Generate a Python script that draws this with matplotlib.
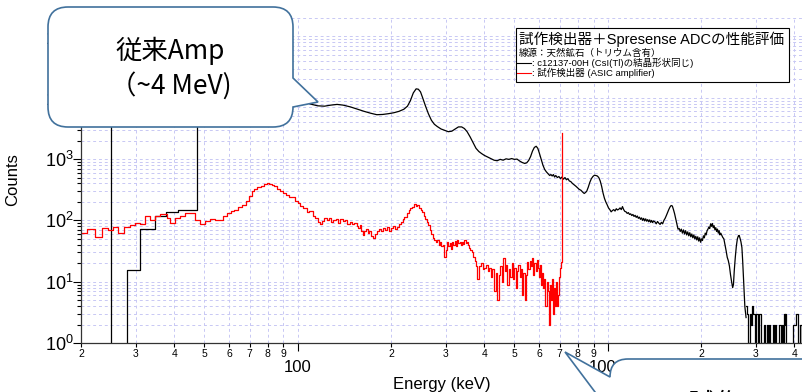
import numpy as np
import matplotlib
matplotlib.use("Agg")
import matplotlib.pyplot as plt
import matplotlib.transforms as mtransforms
from matplotlib.path import Path
from matplotlib.patches import PathPatch, Rectangle
from matplotlib.lines import Line2D
from matplotlib.ticker import FixedLocator, FuncFormatter, LogLocator, NullFormatter

W, H = 803, 392
plt.rcParams["font.family"] = ["Liberation Sans", "Noto Sans CJK JP", "DejaVu Sans"]
plt.rcParams["mathtext.fontset"] = "custom"
plt.rcParams["mathtext.rm"] = "Liberation Sans"
plt.rcParams["mathtext.default"] = "rm"

# ---- data (energy in keV, counts) ----
# c12137-00H, low energy histogram bins (left edges)
black_low_E = [19, 25.0, 28.1, 31.1, 34.6, 37.7, 41.0, 47.5]
black_low_C = [2e4, 0, 15.4, 72, 116, 135, 150, 2.5e4]

# c12137-00H, main spectrum
black_mid_E = [47.5, 60, 80, 100, 110, 116, 122, 128, 134, 140, 148, 156, 164, 172, 180,
               188, 196, 204, 212, 220, 226, 231, 236, 241, 245, 249, 253, 258, 264, 270,
               276, 282, 290, 298, 306, 314, 322, 330, 338, 345, 352, 360, 368, 376, 384,
               392, 400, 410, 420, 430, 440, 450, 460, 470, 480, 490, 500, 510, 520, 530,
               540, 548, 556, 564, 572, 580, 588, 595, 602, 610, 618, 626, 634, 642, 650,
               656, 662, 668, 674, 680, 688, 696, 704, 712, 720, 728, 736, 744, 752, 760,
               770, 780, 790, 800, 810, 820, 830, 840, 848, 856, 866, 876, 886, 896, 906,
               916, 926, 936, 946, 956, 966, 976, 986, 996, 1006, 1016, 1026, 1036, 1046, 1056,
               1066, 1076, 1086, 1096, 1106, 1116, 1126, 1136, 1146, 1156, 1166, 1176, 1186, 1196, 1206,
               1216, 1226, 1236, 1246, 1256, 1266, 1276, 1286, 1296, 1306, 1316, 1326, 1336, 1346, 1356,
               1366, 1376, 1386, 1396, 1406, 1420, 1434, 1448, 1462, 1476, 1490, 1504, 1518, 1532, 1546,
               1560, 1574, 1588, 1602, 1616, 1630, 1644, 1658, 1672, 1686, 1700, 1714, 1728, 1742, 1756,
               1770, 1784, 1798, 1812, 1826, 1840, 1854, 1868, 1882, 1896, 1910, 1924, 1938, 1952, 1966,
               1980, 1994, 2008, 2022, 2036, 2050, 2064, 2078, 2092, 2106, 2120, 2134, 2148, 2162, 2176,
               2190, 2204, 2218, 2232, 2246, 2260, 2274, 2288, 2302, 2316, 2330, 2350, 2370, 2390, 2410,
               2430, 2450, 2470, 2490, 2510, 2530, 2545, 2560, 2580, 2600, 2620, 2640, 2655, 2670, 2690,
               2710, 2725, 2740, 2755, 2770, 2795]
black_mid_C = [2.5e4, 2.2e4, 1.6e4, 1.0e4, 7900, 7400, 7300, 7600, 7800, 7600, 7100, 6500, 6000, 5600, 5300,
               5350, 5500, 5700, 6000, 6500, 7300, 9000, 12000, 14000, 13800, 12500, 10000, 7500, 5500, 4300,
               3700, 3400, 3100, 2950, 2800, 2850, 3100, 3350, 3350, 3150, 2800, 2300, 1850, 1500, 1330,
               1230, 1150, 1080, 1020, 960, 940, 990, 960, 1010, 990, 1020, 990, 1000, 930, 880,
               850, 870, 950, 1100, 1350, 1550, 1620, 1500, 1250, 1000, 800, 680, 620, 580, 540,
               560, 530, 560, 510, 540, 500, 520, 480, 510, 470, 500, 460, 480, 440, 430,
               400, 380, 360, 340, 320, 310, 290, 275, 285, 300, 350, 420, 480, 520, 545,
               540, 530, 500, 440, 360, 280, 230, 200, 180, 160, 150, 138, 145, 150, 142,
               155, 148, 152, 160, 150, 168, 150, 140, 138, 130, 134, 125, 128, 120, 125,
               116, 121, 112, 118, 108, 113, 104, 110, 100, 108, 98, 106, 97, 103, 95,
               102, 93, 100, 92, 98, 95, 88, 96, 90, 86, 93, 88, 100, 108, 120,
               135, 150, 165, 175, 172, 150, 128, 105, 85, 72, 74, 66, 72, 62, 70,
               60, 68, 58, 65, 56, 63, 54, 60, 52, 58, 50, 55, 48, 54, 46,
               52, 44, 50, 47, 56, 52, 62, 58, 68, 72, 78, 74, 88, 80, 89,
               76, 82, 70, 76, 66, 72, 62, 68, 58, 62, 58, 53, 50, 40, 32,
               25, 22, 18, 13, 10, 8, 9, 15, 25, 38, 50, 56, 57, 52, 45,
               36, 22, 12, 6, 3.9, 2.6]

# c12137-00H, high energy tail (25 keV bins)
black_tail_start = 2795
black_tail_bin = 25
black_tail_C = [4, 3, 1, 3, 2, 4, 3, 3, 0, 3, 1, 3, 3, 0, 1, 0, 2, 0, 0, 2,
                0, 2, 1, 0, 0, 2, 0, 2, 0, 0, 1, 2, 2, 1, 2, 0, 3, 2, 3, 0,
                0, 1, 0, 0, 0, 0, 0, 2, 2, 2, 3, 3, 3, 1, 0, 2, 2, 0, 2, 0]

# prototype detector (ASIC amplifier)
red_E = [19.5, 20.9, 22.2, 23.4, 24.4, 25.4, 26.3, 27.5, 28.8, 29.9, 31.0, 32.2, 33.4, 34.7, 36.0,
         37.9, 38.8, 40.2, 41.7, 43.3, 44.9, 46.6, 48.4, 50.2, 52.1, 54, 56, 57.5, 59, 61,
         62.5, 64, 66, 68, 69.5, 71, 72.5, 74, 76, 78, 79.5, 81, 82.5, 84, 86,
         88, 90, 92, 94, 96, 98, 100, 101.5, 104, 107, 109, 112, 114, 116, 118,
         120, 122, 124, 126, 128, 130, 133, 135, 137, 140, 142, 144, 147, 150, 152,
         155, 157, 159, 160, 162, 164, 166, 168, 170, 172, 175, 177, 180, 183, 186,
         188, 191, 194, 197, 200, 203, 206, 209, 212, 215, 218, 221, 225, 228, 231,
         234, 237, 240, 243, 246, 249, 252, 255, 258, 261, 264, 267, 270, 273, 276,
         279, 282, 285, 288, 291, 294, 297, 300, 303, 306, 309, 312, 315, 318, 321,
         324, 327, 330, 333, 336, 339, 342, 345, 348, 351, 354, 357, 360, 364, 368,
         372, 376, 380, 385, 390, 395, 400, 405, 410, 415, 420, 425, 430, 435, 440,
         445, 450, 455, 460, 465, 470, 475, 480, 485, 490, 495, 500, 505, 510, 515,
         520, 525, 530, 535, 540, 545, 550, 555, 560, 565, 570, 575, 580, 585, 590,
         595, 600, 605, 610, 615, 620, 625, 630, 635, 640, 645, 650, 655, 660, 665,
         670, 675, 680, 685, 690, 695, 700, 705, 710, 714]
red_C = [62, 72, 53, 74, 69, 77, 63, 77, 83, 92, 89, 116, 103, 116, 125,
         111, 92, 111, 120, 130, 130, 100, 89, 97, 107, 103, 100, 116, 130, 140,
         150, 163, 180, 210, 250, 300, 320, 350, 370, 390, 405, 395, 380, 360, 330,
         300, 285, 260, 240, 237, 210, 190, 175, 160, 135, 140, 120, 110, 95, 89,
         98, 111, 100, 108, 95, 100, 104, 92, 107, 96, 100, 89, 95, 86, 92,
         80, 74, 84, 66, 57, 68, 72, 62, 66, 56, 51, 60, 68, 72, 66,
         74, 70, 78, 68, 75, 80, 72, 77, 88, 95, 105, 115, 130, 150, 160,
         165, 182, 175, 178, 160, 150, 135, 120, 105, 95, 84, 70, 60, 52, 48,
         44, 47, 40, 45, 38, 40, 25, 33, 45, 38, 42, 34, 44, 40, 46,
         38, 47, 42, 44, 39, 45, 41, 47, 42, 44, 40, 36, 33, 30, 25,
         22, 18, 11, 18, 20, 16, 17, 19, 15, 17, 12, 16, 7, 14, 5,
         13, 18, 10, 24, 15, 19, 9, 16, 12, 20, 11, 17, 8, 15, 19,
         12, 16, 6, 14, 5, 13, 21, 16, 22, 18, 24, 13, 20, 15, 23,
         17, 12, 19, 9, 14, 8, 11, 4, 10, 7, 2, 9, 5, 11, 3,
         8, 4, 10, 4, 6, 12, 17, 21, 25, 2700]

# axis ticks
x_major = [100, 1000]
x_minor = [20, 30, 40, 50, 60, 70, 80, 90, 200, 300, 400, 500, 600, 700, 800, 900,
           2000, 3000, 4000]

title_text = "試作検出器＋Spresense ADCの性能評価"
source_text = "線源：天然鉱石（トリウム含有）"
black_label = ": c12137-00H (CsI(Tl)の結晶形状同じ)"
red_label = ": 試作検出器 (ASIC amplifier)"

# ---- figure ----
fig = plt.figure(figsize=(W / 100, H / 100), dpi=100)
ax = fig.add_axes([81 / W, 1 - 343 / H, (W - 81) / W, (343 - 17) / H])
ax.set_xscale("log")
ax.set_yscale("log")

ax.step(black_low_E, black_low_C, where="post", color="black", lw=0.9)
ax.plot(black_mid_E, black_mid_C, color="black", lw=0.9)
tail_E = black_tail_start + black_tail_bin * np.arange(len(black_tail_C))
ax.step(tail_E, black_tail_C, where="post", color="black", lw=0.9)
ax.step(red_E, red_C, where="post", color="#ff0000", lw=0.9)

ax.set_xlim(20, 4266)
ax.set_ylim(1, 2.08e5)

ax.xaxis.set_major_locator(FixedLocator(x_major))
ax.xaxis.set_major_formatter(FuncFormatter(lambda v, p: f"{int(round(v))}"))
ax.xaxis.set_minor_locator(FixedLocator(x_minor))
ax.xaxis.set_minor_formatter(FuncFormatter(lambda v, p: str(int(round(v)))[0]))
ax.yaxis.set_major_locator(LogLocator(base=10, numticks=10))
ax.yaxis.set_major_formatter(FuncFormatter(lambda v, p: "$10^{%d}$" % int(round(np.log10(v)))))
ax.yaxis.set_minor_locator(LogLocator(base=10, subs=np.arange(2, 10), numticks=20))
ax.yaxis.set_minor_formatter(NullFormatter())

ax.tick_params(axis="x", which="major", length=6, width=0.8, labelsize=12, pad=6)
ax.tick_params(axis="x", which="minor", length=3, width=0.8, labelsize=7.5, pad=1.5)
ax.tick_params(axis="y", which="major", length=6, width=0.8, labelsize=13, pad=-1)
ax.tick_params(axis="y", which="minor", length=3, width=0.8)

for s in ["top", "right"]:
    ax.spines[s].set_visible(False)
for s in ["left", "bottom"]:
    ax.spines[s].set_color("#333333")
    ax.spines[s].set_linewidth(0.9)

ax.grid(True, which="both", color="#c8c8f4", linestyle=(0, (3, 3)), linewidth=0.7)
ax.set_axisbelow(True)

ax.set_xlabel("Energy (keV)", fontsize=12, labelpad=2)
ax.set_ylabel("Counts", fontsize=12)
ax.yaxis.set_label_coords(-0.085, 0.5)

# pixel coordinates (origin top-left) -> figure
px = mtransforms.Affine2D().scale(1 / W, -1 / H).translate(0, 1) + fig.transFigure

# legend box
fig.add_artist(Rectangle((516, 28), 273, 54, transform=px, facecolor="white",
                         edgecolor="black", lw=0.8))
fig.text(519 / W, 1 - 39 / H, title_text, fontsize=10.5, va="center", ha="left")
fig.text(519 / W, 1 - 53 / H, source_text, fontsize=6.8, va="center", ha="left")
fig.add_artist(Line2D([517, 531], [63, 63], transform=px, color="black", lw=0.8))
fig.text(532 / W, 1 - 63 / H, black_label, fontsize=6.8, va="center", ha="left")
fig.add_artist(Line2D([517, 531], [73, 73], transform=px, color="#ff0000", lw=0.8))
fig.text(532 / W, 1 - 73 / H, red_label, fontsize=6.8, va="center", ha="left")

# speech-bubble callouts
M, L, C3, CL = Path.MOVETO, Path.LINETO, Path.CURVE3, Path.CLOSEPOLY
x0, y0, x1, y1, r = 48, 7, 293, 127, 20
verts = [(x0 + r, y0), (x1 - r, y0), (x1, y0), (x1, y0 + r), (x1, 78), (318, 102), (x1, 107),
         (x1, y1 - r), (x1, y1), (x1 - r, y1), (x0 + r, y1), (x0, y1), (x0, y1 - r),
         (x0, y0 + r), (x0, y0), (x0 + r, y0), (x0 + r, y0)]
codes = [M, L, C3, C3, L, L, L, L, C3, C3, L, C3, C3, L, C3, C3, CL]
fig.add_artist(PathPatch(Path(verts, codes), transform=px, facecolor="white",
                         edgecolor="#41719c", lw=1.2))
fig.text(170 / W, 1 - 51 / H, "従来Amp", fontsize=19, ha="center", va="center",
         family=["Noto Sans CJK JP"])
fig.text(171 / W, 1 - 86 / H, "（~4 MeV)", fontsize=19, ha="center", va="center",
         family=["Noto Sans CJK JP"])

x0, y0, x1, y1, r = 610, 359, 840, 460, 18
verts = [(x0 + r, y0), (x1, y0), (x1, y1), (x0, y1), (x0, 412), (565, 352), (x0, y0 + r),
         (x0, y0), (x0 + r, y0), (x0 + r, y0)]
codes = [M, L, L, L, L, L, L, C3, C3, CL]
fig.add_artist(PathPatch(Path(verts, codes), transform=px, facecolor="white",
                         edgecolor="#41719c", lw=1.2))
fig.text(688 / W, 1 - 391 / H, "試作アンプ", fontsize=19, ha="left", va="top",
         family=["Noto Sans CJK JP"])

fig.savefig("out.png", dpi=100)
